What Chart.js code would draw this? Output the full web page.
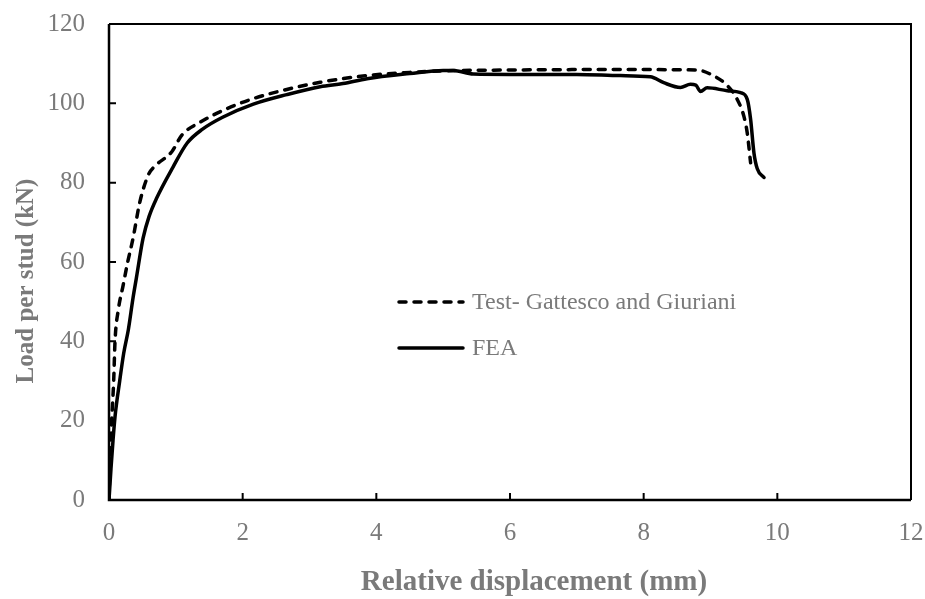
<!DOCTYPE html>
<html>
<head>
<meta charset="utf-8">
<script src="https://cdn.jsdelivr.net/npm/chart.js@4.4.0/dist/chart.umd.min.js"></script>
<style>
  html, body { margin: 0; padding: 0; background: #fff; }
  #wrap { width: 925px; height: 599px; }
</style>
</head>
<body>
<div id="wrap"><canvas id="slip-curve"></canvas></div>
<script>
// push-out test vs. FE model, load per stud against slip
const dispTest = [0, 0.02, 0.04, 0.07, 0.09, 0.14, 0.21, 0.28, 0.36, 0.46, 0.59, 0.71, 0.94, 1.09, 1.36, 1.76, 2.16, 2.66, 3.16, 3.86, 4.5, 5.0, 6.0, 7.0, 8.0, 8.8, 9.04, 9.25, 9.4, 9.5, 9.55, 9.6];
const loadTest = [0, 12, 20, 30, 40, 48, 54, 60, 66, 75, 82, 84.5, 87.8, 92, 95.2, 98.6, 101.2, 103.5, 105.3, 107, 107.8, 108.2, 108.4, 108.5, 108.5, 108.4, 107, 104.5, 101, 96.7, 92.5, 85];

const dispFea = [0, 0.03, 0.06, 0.09, 0.16, 0.22, 0.29, 0.36, 0.41, 0.51, 0.6, 0.71, 0.96, 1.17, 1.4, 1.7, 2.16, 2.66, 3.16, 3.5, 3.86, 4.5, 5.0, 5.15, 5.45, 6.0, 7.0, 7.65, 8.1, 8.3, 8.55, 8.7, 8.78, 8.85, 8.95, 9.25, 9.45, 9.55, 9.6, 9.65, 9.7, 9.8];
const loadFea = [0, 8, 15, 21, 30, 37, 43, 51, 56, 66, 71.5, 76, 84, 90, 93.5, 96.5, 99.8, 102.2, 104.2, 105, 106.2, 107.5, 108.3, 108.3, 107.4, 107.3, 107.3, 107, 106.7, 105.2, 104, 104.8, 104.6, 103, 103.9, 103.2, 102.7, 101, 96, 87.5, 83.5, 81.3];

const xTicks = [0, 2, 4, 6, 8, 10, 12];
const yTicks = [0, 20, 40, 60, 80, 100, 120];

const seriesNames = ['Test- Gattesco and Giuriani', 'FEA'];
const xTitle = 'Relative displacement (mm)';
const yTitle = 'Load per stud (kN)';

const serif = "'Liberation Serif', 'Times New Roman', serif";
const grey = '#7a7a7a';

function toPoints(xs, ys) {
    let pts = [];
    for (let i = 0; i < xs.length; i++) {
        pts.push({ x: xs[i], y: ys[i] });
    }
    return pts;
}

// frame, inward tick marks, axis titles and the legend inside the plot
const framePlugin = {
    id: 'frame',
    afterDraw(chart) {
        const c = chart.ctx;
        const a = chart.chartArea;
        const xs = chart.scales.x;
        const ys = chart.scales.y;
        c.save();
        c.strokeStyle = '#000';
        c.lineCap = 'butt';

        c.lineWidth = 2;
        c.beginPath();
        c.moveTo(a.left, a.top);
        c.lineTo(a.right, a.top);
        c.lineTo(a.right, a.bottom);
        c.stroke();

        c.lineWidth = 2.5;
        c.beginPath();
        c.moveTo(a.left, a.top);
        c.lineTo(a.left, a.bottom);
        c.lineTo(a.right, a.bottom);
        c.stroke();

        c.lineWidth = 2;
        c.beginPath();
        xTicks.forEach(function(v) {
            const px = xs.getPixelForValue(v);
            c.moveTo(px, a.bottom);
            c.lineTo(px, a.bottom - 7);
        });
        yTicks.forEach(function(v) {
            const py = ys.getPixelForValue(v);
            c.moveTo(a.left, py);
            c.lineTo(a.left + 7, py);
        });
        c.stroke();

        // axis titles
        c.fillStyle = grey;
        c.textAlign = 'center';
        c.textBaseline = 'middle';
        c.font = 'bold 29px ' + serif;
        c.fillText(xTitle, (a.left + a.right) / 2 + 24, 583);
        c.font = 'bold 25px ' + serif;
        c.save();
        c.translate(27, (a.top + a.bottom) / 2 + 19);
        c.rotate(-Math.PI / 2);
        c.fillText(yTitle, 0, 0);
        c.restore();

        // legend
        const lx = a.left + 288;
        const rows = [a.top + 278, a.top + 324];
        chart.data.datasets.forEach(function(ds, i) {
            c.strokeStyle = ds.borderColor;
            c.lineWidth = ds.borderWidth;
            c.lineCap = 'round';
            c.setLineDash(ds.borderDash || []);
            c.beginPath();
            c.moveTo(lx + 2, rows[i]);
            c.lineTo(lx + 66, rows[i]);
            c.stroke();
            c.setLineDash([]);
            c.fillStyle = grey;
            c.font = '24px ' + serif;
            c.textAlign = 'left';
            c.textBaseline = 'middle';
            c.fillText(ds.label, lx + 75, rows[i] + 1);
        });
        c.restore();
    }
};

const ctx = document.getElementById('slip-curve');

const graph = new Chart(ctx, {
    type: 'scatter',
    data: {
        datasets: [{
            label: seriesNames[0],
            data: toPoints(dispTest, loadTest),
            showLine: true,
            borderColor: '#000',
            borderWidth: 3.5,
            borderDash: [7, 8],
            borderCapStyle: 'round',
            pointRadius: 0,
            cubicInterpolationMode: 'monotone'
        }, {
            label: seriesNames[1],
            data: toPoints(dispFea, loadFea),
            showLine: true,
            borderColor: '#000',
            borderWidth: 3.5,
            borderCapStyle: 'round',
            borderJoinStyle: 'round',
            pointRadius: 0,
            cubicInterpolationMode: 'monotone'
        }]
    },
    options: {
        responsive: true,
        maintainAspectRatio: false,
        animation: false,
        layout: {
            padding: { top: 24, right: 14, left: 0, bottom: 0 }
        },
        plugins: {
            legend: { display: false },
            tooltip: { enabled: false }
        },
        scales: {
            x: {
                type: 'linear',
                min: 0,
                max: 12,
                afterBuildTicks: function(scale) {
                    scale.ticks = xTicks.map(function(v) { return { value: v }; });
                },
                afterFit: function(scale) {
                    scale.height = 99;
                    scale.paddingLeft = 0;
                    scale.paddingRight = 0;
                },
                grid: { display: false },
                border: { display: false },
                ticks: {
                    color: grey,
                    padding: 10,
                    maxRotation: 0,
                    font: { family: serif, size: 25 }
                }
            },
            y: {
                type: 'linear',
                min: 0,
                max: 120,
                afterBuildTicks: function(scale) {
                    scale.ticks = yTicks.map(function(v) { return { value: v }; });
                },
                afterFit: function(scale) {
                    scale.width = 109;
                    scale.paddingTop = 0;
                    scale.paddingBottom = 0;
                },
                grid: { display: false },
                border: { display: false },
                ticks: {
                    color: grey,
                    padding: 16,
                    font: { family: serif, size: 25 }
                }
            }
        }
    },
    plugins: [framePlugin]
});
</script>
</body>
</html>
